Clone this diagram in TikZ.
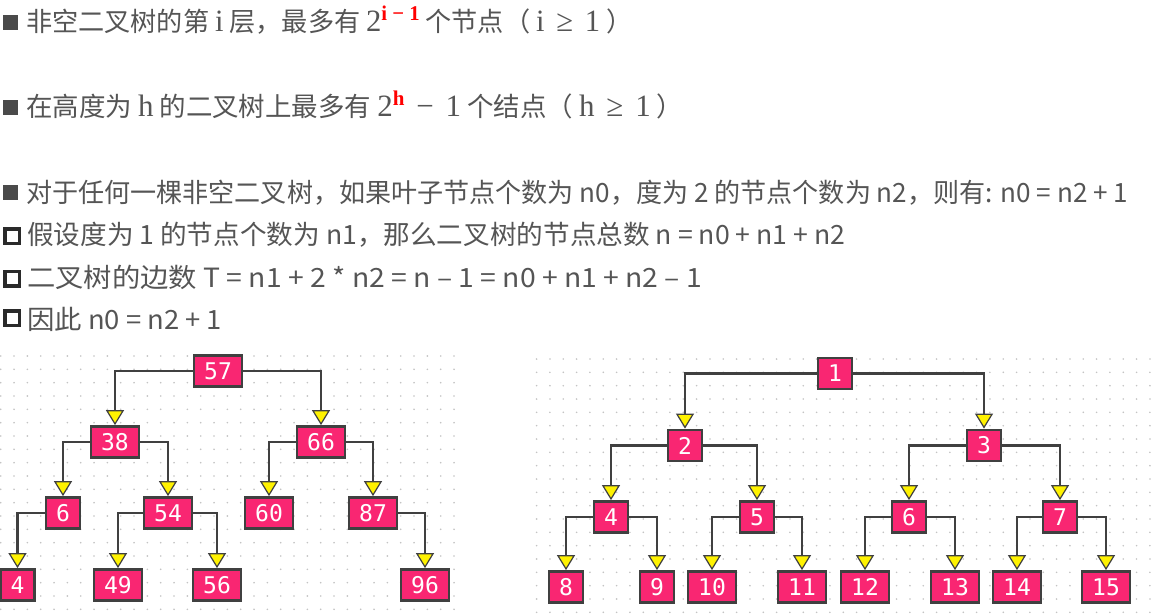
\documentclass[tikz,border=0pt]{standalone}
\usepackage{fontspec}
\usepackage{graphicx}
\usetikzlibrary{arrows.meta}
\setmainfont{Noto Sans CJK SC}
\newfontfamily\srf{Liberation Serif}
\newcommand\sr{\fontsize{31}{31}\selectfont\srf}
\newfontfamily\mono{DejaVu Sans Mono}
\definecolor{txt}{HTML}{555555}
\definecolor{bul}{HTML}{4A4A4A}
\definecolor{bulh}{HTML}{2A2A2A}
\definecolor{pink}{HTML}{F92672}
\definecolor{edgec}{HTML}{404040}
\definecolor{dotc}{HTML}{C4C4C4}
\newsavebox\fitbox
\newlength\fitw
\newcommand\fitto[2]{\sbox\fitbox{#2}\setlength\fitw{\wd\fitbox}\pgfmathsetmacro\fitratio{#1/\fitw}\scalebox{\fitratio}[1]{\usebox\fitbox}}
\newcommand\supr[2]{\raisebox{#1}{\fontsize{21}{21}\selectfont\srf\bfseries\color{red}#2}}
\tikzset{
  txtline/.style={anchor=base west, inner sep=0pt, text=txt, font=\fontsize{26.5}{30}\selectfont},
  tn/.style={draw=edgec, line width=2.8pt, fill=pink, text=white, font=\mono\fontsize{23}{23}\selectfont, minimum height=31pt, minimum width=34pt, inner sep=0pt},
  tw/.style={tn, minimum width=48pt},
  edge/.style={draw=edgec, line width=2.8pt, -{Triangle[width=18pt,length=15pt,fill=yellow,line width=1.2pt]}},
  fbul/.style={fill=bul},
  hbul/.style={draw=bulh, line width=3.5pt}
}
\begin{document}
\begin{tikzpicture}[x=1pt,y=-1pt]
\useasboundingbox (0,0) rectangle (1152,614);
\fill[white] (0,0) rectangle (1152,614);
% dot grids
\foreach \i in {0,...,34} \foreach \j in {0,...,19} \fill[dotc] (0.7+13.333*\i, 356+13.333*\j) circle (0.9);
\foreach \i in {0,...,46} \foreach \j in {0,...,19} \fill[dotc] (536.6+13.333*\i, 359+13.333*\j) circle (0.9);
% bullets
\fill[fbul] (3,15) rectangle (18,30);
\fill[fbul] (3,100) rectangle (18,115);
\fill[fbul] (3,185) rectangle (18,200);
\draw[hbul] (4.75,228.75) rectangle (19.25,243.25);
\draw[hbul] (4.75,271.25) rectangle (19.25,285.75);
\draw[hbul] (4.75,310.75) rectangle (19.25,325.25);
% text lines
\node[txtline] (t1) at (26,31) {\fitto{606}{非空二叉树的第 {\sr i} 层，最多有 {\sr 2}\supr{11pt}{i − 1} 个节点（ {\sr i} \ {\sr ≥} \ {\sr 1} ）}};
\node[txtline] (t2) at (26,116) {\fitto{657}{在高度为 {\sr h} 的二叉树上最多有 {\sr 2}\supr{11pt}{h} \ {\sr −} \ {\sr 1} 个结点（ {\sr h} \ {\sr ≥} \ {\sr 1} ）}};
\node[txtline] (t3) at (26,202) {\fitto{1102}{对于任何一棵非空二叉树，如果叶子节点个数为 n0，度为 2 的节点个数为 n2，则有: n0 = n2 + 1}};
\node[txtline] (t4) at (27,244.5) {\fitto{818}{假设度为 1 的节点个数为 n1，那么二叉树的节点总数 n = n0 + n1 + n2}};
\node[txtline] (t5) at (27,287) {\fitto{675}{二叉树的边数 T = n1 + 2 * n2 = n – 1 = n0 + n1 + n2 – 1}};
\node[txtline] (t6) at (27,329.5) {\fitto{195}{因此 n0 = n2 + 1}};
% left tree
\node[tw] (l57) at (218,371) {57};
\node[tw] (l38) at (115,442) {38};
\node[tw] (l66) at (321,442) {66};
\node[tn] (l6) at (63,513) {6};
\node[tw] (l54) at (168,513) {54};
\node[tw] (l60) at (269,513) {60};
\node[tw] (l87) at (373,513) {87};
\node[tn] (l4) at (17.5,585) {4};
\node[tw] (l49) at (118,585) {49};
\node[tw] (l56) at (217,585) {56};
\node[tw] (l96) at (425,585) {96};
\draw[edge] (l57.west) -| (l38.north);
\draw[edge] (l57.east) -| (l66.north);
\draw[edge] (l38.west) -| (l6.north);
\draw[edge] (l38.east) -| (l54.north);
\draw[edge] (l66.west) -| (l60.north);
\draw[edge] (l66.east) -| (l87.north);
\draw[edge] (l6.west) -| (l4.north);
\draw[edge] (l54.west) -| (l49.north);
\draw[edge] (l54.east) -| (l56.north);
\draw[edge] (l87.east) -| (l96.north);
% right tree
\node[tn] (r1) at (835,373.5) {1};
\node[tn] (r2) at (685,445.5) {2};
\node[tn] (r3) at (984,445.5) {3};
\node[tn] (r4) at (611,517) {4};
\node[tn] (r5) at (757,517) {5};
\node[tn] (r6) at (909,517) {6};
\node[tn] (r7) at (1060,517) {7};
\node[tn] (r8) at (566,587) {8};
\node[tn] (r9) at (657,587) {9};
\node[tw] (r10) at (712,587) {10};
\node[tw] (r11) at (802,587) {11};
\node[tw] (r12) at (865,587) {12};
\node[tw] (r13) at (955,587) {13};
\node[tw] (r14) at (1017,587) {14};
\node[tw] (r15) at (1106,587) {15};
\draw[edge] (r1.west) -| (r2.north);
\draw[edge] (r1.east) -| (r3.north);
\draw[edge] (r2.west) -| (r4.north);
\draw[edge] (r2.east) -| (r5.north);
\draw[edge] (r3.west) -| (r6.north);
\draw[edge] (r3.east) -| (r7.north);
\draw[edge] (r4.west) -| (r8.north);
\draw[edge] (r4.east) -| (r9.north);
\draw[edge] (r5.west) -| (r10.north);
\draw[edge] (r5.east) -| (r11.north);
\draw[edge] (r6.west) -| (r12.north);
\draw[edge] (r6.east) -| (r13.north);
\draw[edge] (r7.west) -| (r14.north);
\draw[edge] (r7.east) -| (r15.north);
\end{tikzpicture}
\end{document}
